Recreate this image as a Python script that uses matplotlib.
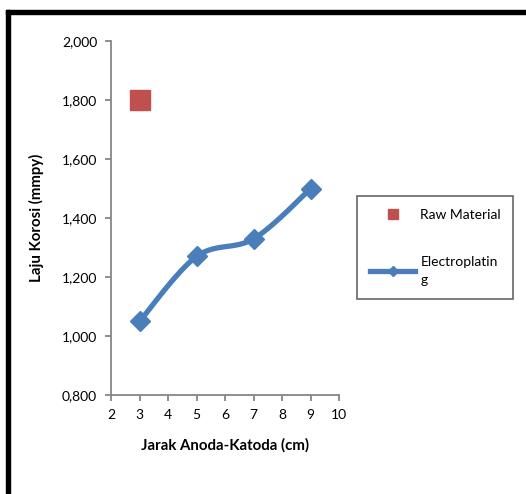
import numpy as np
import matplotlib.pyplot as plt
from matplotlib.lines import Line2D
from matplotlib.patches import Rectangle
from matplotlib.ticker import FuncFormatter

# data
jarak = [3, 5, 7, 9]
laju_electro = [1.05, 1.27, 1.33, 1.50]
raw_x = [3]
raw_y = [1.80]

BLUE = '#4A7EBB'
RED = '#C0504D'
GRAY = '#868686'

plt.rcParams['font.family'] = ['Lato', 'DejaVu Sans']


def smooth(xs, ys, n=40):
    # cardinal spline through the points, like a spreadsheet "smoothed line"
    xs = np.asarray(xs, float)
    ys = np.asarray(ys, float)
    px = np.concatenate([[xs[0]], xs, [xs[-1]]])
    py = np.concatenate([[ys[0]], ys, [ys[-1]]])
    out_x, out_y = [], []
    t = np.linspace(0, 1, n)
    for i in range(1, len(px) - 2):
        p0 = np.array([px[i], py[i]])
        p3 = np.array([px[i + 1], py[i + 1]])
        p1 = p0 + (np.array([px[i + 1], py[i + 1]]) - np.array([px[i - 1], py[i - 1]])) / 6
        p2 = p3 - (np.array([px[i + 2], py[i + 2]]) - np.array([px[i], py[i]])) / 6
        b = ((1 - t) ** 3)[:, None] * p0 + (3 * (1 - t) ** 2 * t)[:, None] * p1 \
            + (3 * (1 - t) * t ** 2)[:, None] * p2 + (t ** 3)[:, None] * p3
        out_x.extend(b[:, 0])
        out_y.extend(b[:, 1])
    return out_x, out_y


fig = plt.figure(figsize=(5.26, 4.94), dpi=100)
ax = fig.add_axes([0.211, 0.2, 0.434, 0.717])

ax.plot(raw_x, raw_y, linestyle='none', marker='s', markersize=14,
        color=RED, markeredgecolor=RED, zorder=3)
sx, sy = smooth(jarak, laju_electro)
ax.plot(sx, sy, color=BLUE, linewidth=3.8, solid_capstyle='round', zorder=2)
ax.plot(jarak, laju_electro, linestyle='none', marker='D', markersize=10,
        color=BLUE, zorder=3)

ax.set_xlim(2, 10)
ax.set_ylim(0.8, 2.0)
ax.set_xticks(range(2, 11))
ax.set_yticks(np.arange(0.8, 2.01, 0.2))
ax.yaxis.set_major_formatter(FuncFormatter(lambda v, p: f'{v:.3f}'.replace('.', ',')))

for s in ['top', 'right']:
    ax.spines[s].set_visible(False)
for s in ['left', 'bottom']:
    ax.spines[s].set_color(GRAY)
    ax.spines[s].set_linewidth(1.3)
ax.tick_params(direction='out', length=4, width=1.3, color=GRAY, labelsize=10, pad=6)

ax.set_xlabel('Jarak Anoda-Katoda (cm)', fontsize=10.8, fontweight='bold', labelpad=12)
ax.set_ylabel('Laju Korosi (mmpy)', fontsize=10.8, fontweight='bold', labelpad=13)

handles = [Line2D([], [], linestyle='none', marker='s', markersize=7, color=RED),
           Line2D([], [], color=BLUE, linewidth=3.8, marker='D', markersize=5)]
leg = fig.legend(handles, ['Raw Material', 'Electroplatin\ng'],
                 loc='upper left', bbox_to_anchor=(0.679, 0.603),
                 frameon=True, fancybox=False, fontsize=10,
                 handlelength=3.3, handletextpad=0.35, labelspacing=2.55,
                 borderpad=0.9, borderaxespad=0)
for txt in leg.get_texts():
    txt.set_linespacing(1.6)
leg.get_frame().set_edgecolor('#404040')
leg.get_frame().set_linewidth(1.2)
leg.get_frame().set_boxstyle('square', pad=0)

# outer frame (top and left edges)
fig.patches.append(Rectangle((6 / 526, 1 - 14 / 494), 520 / 526, 4 / 494,
                             transform=fig.transFigure, color='black', zorder=5))
fig.patches.append(Rectangle((6 / 526, 0), 4 / 526, 1 - 10 / 494,
                             transform=fig.transFigure, color='black', zorder=5))

fig.savefig('out.png', dpi=100)
